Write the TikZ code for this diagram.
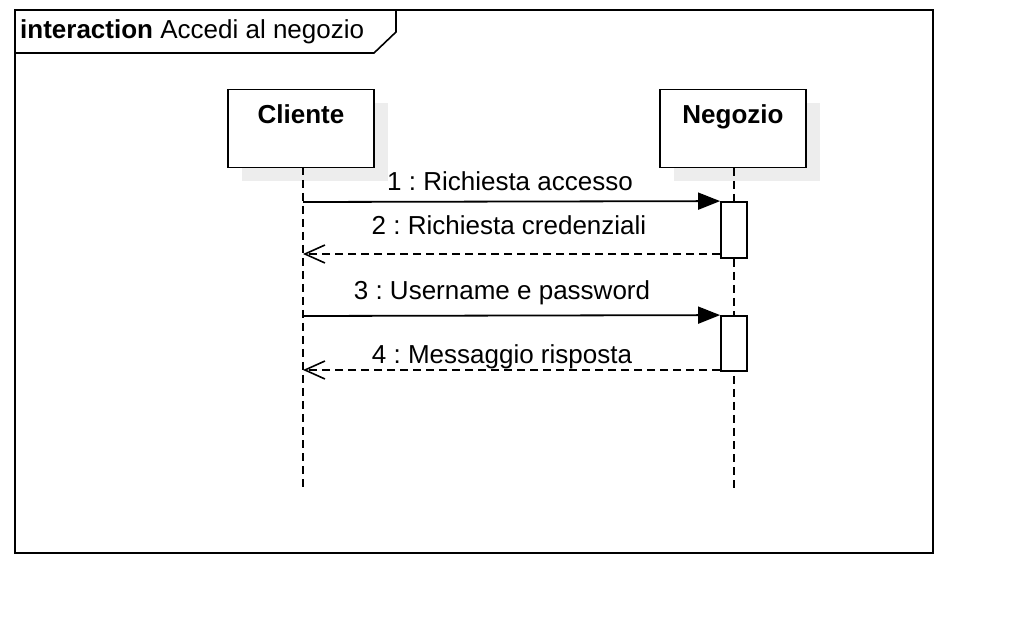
\documentclass[tikz,border=0pt]{standalone}
\usepackage{fontspec}
\setmainfont{Liberation Sans}
\usetikzlibrary{arrows.meta}
\frenchspacing
\begin{document}
\begin{tikzpicture}[x=1pt,y=-1pt,
  txt/.style={font=\fontsize{26}{30}\selectfont, inner sep=0pt, anchor=base},
  btxt/.style={font=\fontsize{26}{30}\selectfont\bfseries, inner sep=0pt, anchor=base},
  lifebox/.style={draw=black, line width=1.8pt, fill=white, minimum width=146pt, minimum height=78pt, inner sep=0pt},
  shadowbox/.style={fill=black!7, draw=none, minimum width=146pt, minimum height=78pt, inner sep=0pt},
  lifeline/.style={line width=1.6pt, dash pattern=on 8pt off 5pt},
  actbox/.style={draw=black, line width=1.8pt, fill=white, minimum width=26pt, inner sep=0pt},
  callmsg/.style={line width=1.8pt, -{Triangle[length=22pt,width=17pt]}},
  replymsg/.style={line width=1.6pt, dash pattern=on 8pt off 5pt, -{Straight Barb[length=20pt,width=18pt,line width=1.6pt]}}
]
\useasboundingbox (0,0) rectangle (1018,644);
% frame
\draw[line width=1.8pt] (15,10) rectangle (933,553);
\draw[line width=1.6pt] (15,53) -- (374,53) -- (396,32) -- (396,10);
\node[txt, anchor=base west] (title) at (20,39) {\textbf{interaction} Accedi al negozio};

% shadows
\node[shadowbox] (cshadow) at (315,142.5) {};
\node[shadowbox] (nshadow) at (747,142.5) {};
% lifelines
\coordinate (cend) at (303,488);
\coordinate (nend) at (734,488);
\node[lifebox] (cliente) at (301,128.5) {};
\node[lifebox] (negozio) at (733,128.5) {};
\node[btxt] (clabel) at (301,124) {Cliente};
\node[btxt] (nlabel) at (733,124) {Negozio};
\draw[lifeline] (303,167) -- (cend);
\draw[lifeline] (734,168) -- (nend);

% activations
\node[actbox, minimum height=56pt] (act1) at (734,230) {};
\node[actbox, minimum height=55pt] (act2) at (734,343.5) {};

% messages
\coordinate (c1) at (303,202);
\coordinate (c2) at (303,254);
\coordinate (c3) at (303,316);
\coordinate (c4) at (303,370);
\draw[callmsg] (c1) -- (act1.north west);
\draw[replymsg] (act1.west |- c2) -- (c2);
\draw[callmsg] (c3) -- (act2.north west);
\draw[replymsg] (act2.west |- c4) -- (c4);

\node[txt] (m1) at (510,191) {1 : Richiesta accesso};
\node[txt] (m2) at (509,235) {2 : Richiesta credenziali};
\node[txt] (m3) at (502,300) {3 : Username e password};
\node[txt] (m4) at (502,363) {4 : Messaggio risposta};
\end{tikzpicture}
\end{document}
